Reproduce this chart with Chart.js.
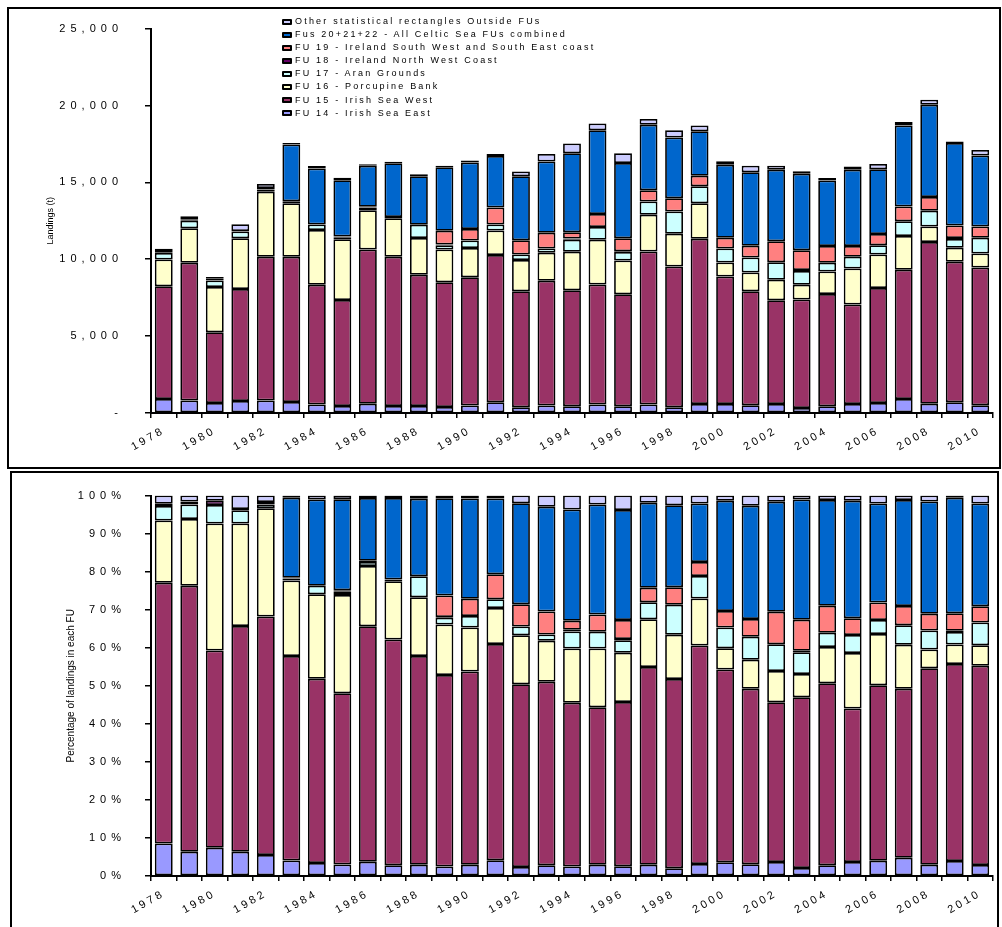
<!DOCTYPE html>
<html>
<head>
<meta charset="utf-8">
<title>Landings by Functional Unit 1978-2010</title>
<script src="https://cdn.jsdelivr.net/npm/chart.js@4.4.1/dist/chart.umd.min.js"></script>
<style>
  html, body { margin: 0; padding: 0; background: #fff; }
  body { position: relative; width: 1002px; height: 927px; overflow: hidden; font-family: 'Liberation Sans', Arial, sans-serif; }
  canvas { position: absolute; left: 0; }
  #topChart { top: 0; }
  #pctChart { top: 470px; }
  .frame { position: absolute; border: 2px solid #000; box-sizing: border-box; pointer-events: none; }
  #frameTop { left: 7px; top: 7px; width: 994px; height: 462px; }
  #frameBottom { left: 10px; top: 471px; width: 989px; height: 480px; }
  #legend { position: absolute; left: 282px; top: 15px; font-size: 9px; letter-spacing: 2.2px; line-height: 13.1px; color: #000; white-space: nowrap; }
  #legend .key { display: inline-block; position: relative; width: 10px; height: 6px; background: #000; border-radius: 1px; margin-right: 3px; vertical-align: middle; }
  #legend .key i { position: absolute; left: 2px; right: 2px; top: 2px; height: 2px; }
</style>
</head>
<body>
<canvas id="topChart" width="1002" height="468"></canvas>
<canvas id="pctChart" width="1002" height="457"></canvas>
<div class="frame" id="frameTop"></div>
<div class="frame" id="frameBottom"></div>
<div id="legend"></div>

<script>
const years = ['1978', '1979', '1980', '1981', '1982', '1983', '1984', '1985', '1986', '1987', '1988',
  '1989', '1990', '1991', '1992', '1993', '1994', '1995', '1996', '1997', '1998', '1999',
  '2000', '2001', '2002', '2003', '2004', '2005', '2006', '2007', '2008', '2009', '2010'];

// landings in tonnes, one value per year
const fu14 = [910, 820, 654, 782, 820, 718, 545, 462, 609, 462, 462,
  397, 481, 692, 372, 481, 436, 560, 436, 560, 372, 590,
  590, 500, 590, 333, 436, 590, 654, 910, 609, 692, 500];
const fu15 = [7330, 8950, 4590, 7280, 9340, 9440, 7790, 6880, 10020, 9700, 8525,
  8100, 8350, 9580, 7545, 8120, 7545, 7800, 7290, 9940, 9150, 10740,
  8290, 7420, 6750, 7050, 7310, 6470, 7470, 8400, 10510, 9150, 8955];
const fu16 = [1750, 2240, 2950, 3310, 4230, 3480, 3570, 3955, 2565, 2500, 2390,
  2140, 1900, 1600, 2030, 1815, 2500, 2900, 2190, 2400, 2135, 2310,
  915, 1220, 1330, 960, 1455, 2345, 2180, 2200, 1005, 900, 915];
const fu17 = [410, 490, 430, 430, 150, 90, 360, 130, 170, 80, 860,
  280, 495, 385, 360, 275, 790, 835, 555, 860, 1455, 1115,
  900, 980, 1130, 900, 575, 750, 600, 960, 1025, 575, 1025];
const fu18 = [60, 100, 100, 40, 100, 40, 0, 60, 50, 0, 0,
  40, 0, 0, 0, 0, 80, 0, 50, 0, 0, 0,
  0, 0, 0, 60, 0, 0, 0, 0, 0, 60, 0];
const fu19 = [0, 0, 0, 0, 0, 0, 0, 0, 0, 0, 0,
  900, 745, 1110, 920, 1025, 410, 850, 850, 720, 850, 680,
  705, 750, 1370, 1280, 1090, 705, 745, 960, 900, 815, 730];
const fu20 = [0, 0, 0, 0, 0, 3690, 3635, 3655, 2670, 3500, 3165,
  4120, 4320, 3350, 4165, 4640, 5130, 5450, 4880, 4270, 3955, 2885,
  4745, 4790, 4655, 4975, 4250, 4955, 4210, 5275, 6000, 5360, 4615];
const other = [230, 200, 120, 430, 250, 100, 170, 150, 100, 100, 130,
  110, 130, 130, 320, 490, 640, 440, 640, 365, 470, 385,
  220, 425, 255, 160, 175, 220, 340, 220, 320, 100, 360];

const seriesNames = [
  'FU 14 - Irish Sea East',
  'FU 15 - Irish Sea West',
  'FU 16 - Porcupine Bank',
  'FU 17 - Aran Grounds',
  'FU 18 - Ireland North West Coast',
  'FU 19 - Ireland South West and South East coast',
  'Fus 20+21+22 - All Celtic Sea FUs combined',
  'Other statistical rectangles Outside FUs'
];
const seriesColors = ['#9999FF', '#993366', '#FFFFCC', '#CCFFFF', '#660066', '#FF8080', '#0066CC', '#CCCCFF'];

const series = [fu14, fu15, fu16, fu17, fu18, fu19, fu20, other];
const totals = years.map((y, i) => series.reduce((sum, s) => sum + s[i], 0));
const shares = series.map(s => s.map((v, i) => v / totals[i] * 100));

Chart.defaults.font.family = "'Liberation Sans', Arial, sans-serif";
Chart.defaults.color = '#000';
Chart.defaults.animation = false;

// the source picture has its axis text spread out; widen the tick labels only
function spacedLabels(spacing) {
  return {
    id: 'spacedLabels',
    afterUpdate(chart) {
      Object.keys(spacing).forEach(id => {
        const scale = chart.scales[id];
        if (!scale || scale._spaced) return;
        const draw = scale.drawLabels;
        scale.drawLabels = function (area) {
          this.ctx.save();
          this.ctx.letterSpacing = spacing[id];
          draw.call(this, area);
          this.ctx.restore();
        };
        scale._spaced = true;
      });
    }
  };
}

function buildChart(canvasId, values, cfg) {
  return new Chart(document.getElementById(canvasId), {
    type: 'bar',
    data: {
      labels: years,
      datasets: seriesNames.map((name, i) => ({
        label: name,
        data: values[i],
        backgroundColor: seriesColors[i],
        borderColor: '#000',
        borderWidth: 1.75,
        borderSkipped: false,
        barPercentage: 0.7,
        categoryPercentage: 1
      }))
    },
    options: {
      responsive: false,
      layout: { padding: cfg.padding },
      plugins: { legend: { display: false }, tooltip: { enabled: false } },
      scales: {
        x: {
          stacked: true,
          grid: { drawOnChartArea: false, color: '#000', lineWidth: 1.5, tickLength: 5 },
          border: { color: '#000', width: 2 },
          ticks: {
            autoSkip: false, minRotation: 30, maxRotation: 30, padding: 6,
            font: { size: 11 },
            callback: function (v, i) { return i % 2 === 0 ? this.getLabelForValue(v) : ''; }
          },
          afterFit: s => { s.height = cfg.xHeight; }
        },
        y: {
          stacked: true,
          min: 0,
          max: cfg.max,
          grid: { drawOnChartArea: false, color: '#000', lineWidth: 1.5, tickLength: 6 },
          border: { color: '#000', width: 2 },
          ticks: { stepSize: cfg.step, padding: cfg.tickPad, font: { size: 11 }, callback: cfg.tickLabel },
          title: { display: true, text: cfg.title, font: { size: cfg.titleSize }, padding: { top: 4, bottom: 0 } },
          afterFit: s => { s.width = cfg.yWidth; }
        }
      }
    },
    plugins: [spacedLabels({ x: '3px', y: '5px' })]
  });
}

buildChart('topChart', series, {
  padding: { left: 41, right: 9, top: 23, bottom: 0 },
  xHeight: 55,
  yWidth: 110,
  max: 25000,
  step: 5000,
  tickPad: 22,
  tickLabel: v => v === 0 ? '-' : v.toLocaleString('en-US'),
  title: 'Landings (t)',
  titleSize: 9
});

buildChart('pctChart', shares, {
  padding: { left: 61, right: 9, top: 17, bottom: 0 },
  xHeight: 51,
  yWidth: 90,
  max: 100,
  step: 10,
  tickPad: 19,
  tickLabel: v => v + '%',
  title: 'Percentage of landings in each FU',
  titleSize: 10
});

// legend: newest series on top, as in the source
const legend = document.getElementById('legend');
legend.innerHTML = seriesNames.map((name, i) => ({ name, color: seriesColors[i] }))
  .reverse()
  .map(s => `<div><span class="key"><i style="background:${s.color}"></i></span>${s.name}</div>`)
  .join('');
</script>
</body>
</html>
